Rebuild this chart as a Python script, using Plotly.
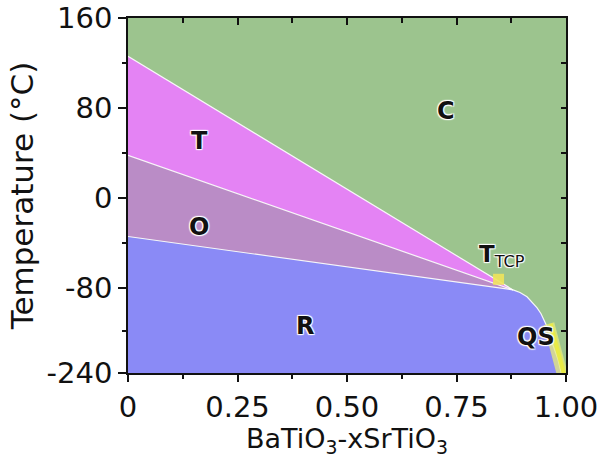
import plotly.graph_objects as go

# ---------------- data ----------------
# phase boundaries (x = SrTiO3 fraction, temperature in degC)
ct_x = [0.0, 0.879]          # cubic / tetragonal
ct_t = [126, -83]
to_x = [0.0, 0.879]          # tetragonal / orthorhombic
to_t = [38, -83]
or_x = [0.0, 0.879]          # orthorhombic / rhombohedral
or_t = [-34, -83]
rc_x = [0.879, 0.895, 0.911, 0.922, 0.934, 0.943, 0.950, 0.957, 0.970, 0.982, 0.989]   # rhombohedral / cubic
rc_t = [-83, -88, -96, -106, -117, -128, -140, -153, -187, -215, -240]

tcp_x = [0.846]              # tricritical point
tcp_t = [-72]
qs_x = [0.961, 0.994]        # quantum-paraelectric (QS) band
qs_t = [-147, -250]

phase_labels = ["C", "T", "O", "R", "QS"]
phase_lx = [0.726, 0.164, 0.162, 0.404, 0.932]
phase_lt = [77, 51, -26, -151, -172]

x_ticks = [0, 0.25, 0.5, 0.75, 1.0]
x_ticktext = ["0", "0.25", "0.50", "0.75", "1.00"]
x_minor = [0.125, 0.375, 0.625, 0.875]
y_ticks = [160, 80, 0, -80, -240]
y_ticktext = ["160", "80", "0", "-80", "-240"]
y_minor = [120, 40, -40, -160]

# ---------------- scale (axis is compressed below -80 degC) ----------------
K = 0.47


def tpos(t):
    return t if t >= -80 else -80 + (t + 80) * K


def tp(lst):
    return [tpos(v) for v in lst]


Y_LO, Y_HI = tpos(-240), tpos(160)

C_COL = "#9cc48e"
T_COL = "#e483f4"
O_COL = "#ba8cc6"
R_COL = "#8a8af6"
FONT = "DejaVu Sans"

fig = go.Figure()

# T region
fig.add_trace(go.Scatter(
    x=ct_x + to_x[::-1], y=tp(ct_t) + tp(to_t[::-1]),
    fill="toself", fillcolor=T_COL, mode="none", hoverinfo="skip", showlegend=False))
# O region
fig.add_trace(go.Scatter(
    x=to_x + or_x[::-1], y=tp(to_t) + tp(or_t[::-1]),
    fill="toself", fillcolor=O_COL, mode="none", hoverinfo="skip", showlegend=False))
# R region
fig.add_trace(go.Scatter(
    x=or_x + rc_x[1:] + [0.0], y=tp(or_t) + tp(rc_t[1:]) + [Y_LO],
    fill="toself", fillcolor=R_COL, mode="none", hoverinfo="skip", showlegend=False))

# boundary lines
for bx, bt in [(ct_x, ct_t), (to_x, to_t), (or_x, or_t), (rc_x, rc_t)]:
    fig.add_trace(go.Scatter(x=bx, y=tp(bt), mode="lines",
                             line=dict(color="rgba(255,255,255,0.9)", width=1.2),
                             hoverinfo="skip", showlegend=False))

# QS band
fig.add_trace(go.Scatter(x=qs_x, y=tp(qs_t), mode="lines",
                         line=dict(color="rgba(232,236,120,0.75)", width=11),
                         hoverinfo="skip", showlegend=False))
fig.add_trace(go.Scatter(x=[v + 0.004 for v in qs_x], y=tp(qs_t), mode="lines",
                         line=dict(color="rgba(236,236,60,0.85)", width=4),
                         hoverinfo="skip", showlegend=False))

# tricritical point
fig.add_trace(go.Scatter(x=tcp_x, y=tp(tcp_t), mode="markers",
                         marker=dict(symbol="square", size=11, color="rgba(240,228,90,0.9)"),
                         hoverinfo="skip", showlegend=False))

# dummy trace for mirrored axes
fig.add_trace(go.Scatter(x=[None], y=[None], xaxis="x2", yaxis="y2",
                         mode="markers", showlegend=False, hoverinfo="skip"))

halo = "1px 1px 1px white, -1px -1px 1px white, 1px -1px 1px white, -1px 1px 1px white"
for lab, lx, lt in zip(phase_labels, phase_lx, phase_lt):
    fig.add_annotation(x=lx, y=tpos(lt), text=lab, showarrow=False,
                       font=dict(family=FONT, size=24, color="#111", weight="bold", shadow=halo))
fig.add_annotation(x=0.797, y=tpos(-51), xanchor="left", text="<b>T</b><sub>TCP</sub>",
                   showarrow=False,
                   font=dict(family=FONT, size=23, color="#111", shadow=halo))

axis_common = dict(showgrid=False, zeroline=False, showline=True, automargin=False,
                   linecolor="#111", linewidth=1.6, tickcolor="#111", tickwidth=1.5)

fig.update_layout(
    width=600, height=458,
    margin=dict(l=128, r=34, t=18, b=85),
    paper_bgcolor="white", plot_bgcolor=C_COL,
    font=dict(family=FONT, size=29, color="#111"),
    xaxis=dict(range=[0, 1], tickmode="array", tickvals=x_ticks, ticktext=x_ticktext,
               ticks="outside", ticklen=7, ticklabeloverflow="allow",
               minor=dict(tickmode="array", tickvals=x_minor, ticks="outside", ticklen=4,
                          tickcolor="#111", tickwidth=1.5),
               title=dict(text="BaTiO<sub>3</sub>-xSrTiO<sub>3</sub>",
                          font=dict(family=FONT, size=27), standoff=2),
               tickfont=dict(size=29), **axis_common),
    yaxis=dict(range=[Y_LO, Y_HI], tickmode="array", tickvals=tp(y_ticks), ticktext=y_ticktext,
               ticks="outside", ticklen=8, ticklabeloverflow="allow",
               minor=dict(tickmode="array", tickvals=tp(y_minor), ticks="outside", ticklen=4,
                          tickcolor="#111", tickwidth=1.5),
               title=dict(text="Temperature (°C)", font=dict(family=FONT, size=31), standoff=4),
               tickfont=dict(size=29), **axis_common),
    xaxis2=dict(range=[0, 1], overlaying="x", side="top", anchor="y2",
                tickmode="array", tickvals=x_ticks, ticks="inside", ticklen=7,
                showticklabels=False,
                minor=dict(tickmode="array", tickvals=x_minor, ticks="inside", ticklen=5,
                           tickcolor="#111", tickwidth=1.5),
                **axis_common),
    yaxis2=dict(range=[Y_LO, Y_HI], overlaying="y", side="right", anchor="x2",
                tickmode="array", tickvals=tp(y_ticks), ticks="inside", ticklen=5,
                showticklabels=False,
                minor=dict(tickmode="array", tickvals=tp(y_minor), ticks="inside", ticklen=5,
                           tickcolor="#111", tickwidth=1.5),
                **axis_common),
)

fig.write_html("out.html", config={"displayModeBar": False},
               post_script="document.body.style.margin='0';")
